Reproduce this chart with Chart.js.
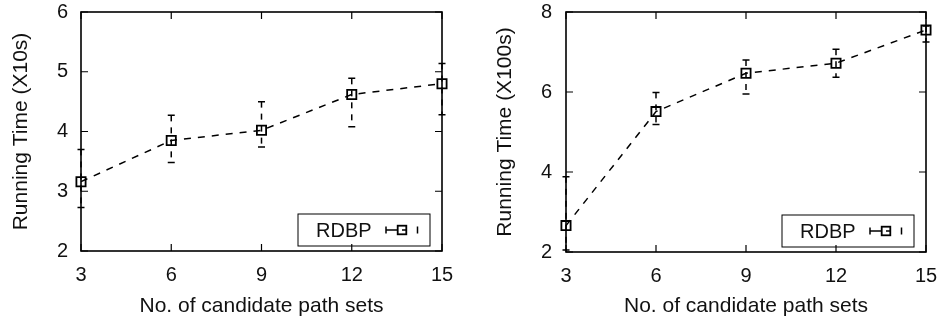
<!DOCTYPE html>
<html lang="en">
<head>
  <meta charset="UTF-8">
  <title>Running Time vs. Candidate Path Sets</title>
  <script src="https://cdn.jsdelivr.net/npm/chart.js"></script>
  <style>
    body { margin: 0; background: #fff; }
    .wrap { position: relative; width: 943px; height: 322px; }
    #leftChart { position: absolute; left: 0; top: 0; }
    #rightChart { position: absolute; left: 471px; top: 0; }
  </style>
</head>
<body>
<div class="wrap">
  <canvas id="leftChart" width="471" height="322"></canvas>
  <canvas id="rightChart" width="472" height="322"></canvas>
</div>

<script>
  // values
  const pathSets = [3, 6, 9, 12, 15];

  const leftMean = [3.16, 3.85, 4.02, 4.62, 4.80];
  const leftLow  = [2.73, 3.48, 3.74, 4.08, 4.28];
  const leftHigh = [3.70, 4.27, 4.50, 4.89, 5.14];

  const rightMean = [2.66, 5.51, 6.47, 6.72, 7.55];
  const rightLow  = [2.05, 5.19, 5.95, 6.37, 7.25];
  const rightHigh = [3.88, 5.99, 6.80, 7.07, 7.65];

  const leftYTicks = [2, 3, 4, 5, 6];
  const rightYTicks = [2, 4, 6, 8];
  const seriesName = "RDBP";

  const FONT = "'Liberation Sans', Arial, Helvetica, sans-serif";

  // box round the plot with inward ticks on all four sides
  const frameTicks = {
    id: 'frameTicks',
    beforeDatasetsDraw(chart) {
      const { ctx, chartArea: a, scales: { x, y } } = chart;
      ctx.save();
      ctx.strokeStyle = '#000';
      ctx.lineWidth = 1.6;
      ctx.strokeRect(a.left, a.top, a.right - a.left, a.bottom - a.top);
      ctx.lineWidth = 1.2;
      ctx.beginPath();
      x.ticks.forEach(t => {
        const px = x.getPixelForValue(t.value);
        ctx.moveTo(px, a.bottom); ctx.lineTo(px, a.bottom - 7);
        ctx.moveTo(px, a.top); ctx.lineTo(px, a.top + 7);
      });
      y.ticks.forEach(t => {
        const py = y.getPixelForValue(t.value);
        ctx.moveTo(a.left, py); ctx.lineTo(a.left + 7, py);
        ctx.moveTo(a.right, py); ctx.lineTo(a.right - 7, py);
      });
      ctx.stroke();
      ctx.restore();
    }
  };

  // dashed vertical error bars with solid caps
  const errorBars = {
    id: 'errorBars',
    beforeDatasetsDraw(chart) {
      const { ctx, scales: { x, y } } = chart;
      const ds = chart.data.datasets[0];
      ctx.save();
      ctx.strokeStyle = '#000';
      ctx.lineWidth = 1.5;
      ds.data.forEach((p, i) => {
        const px = x.getPixelForValue(p.x);
        const top = y.getPixelForValue(ds.errHigh[i]);
        const bot = y.getPixelForValue(ds.errLow[i]);
        ctx.setLineDash([6, 6]);
        ctx.beginPath();
        ctx.moveTo(px, top); ctx.lineTo(px, bot);
        ctx.stroke();
        ctx.setLineDash([]);
        ctx.beginPath();
        ctx.moveTo(px - 3.5, top); ctx.lineTo(px + 3.5, top);
        ctx.moveTo(px - 3.5, bot); ctx.lineTo(px + 3.5, bot);
        ctx.stroke();
      });
      ctx.restore();
    }
  };

  // gnuplot style key in the lower right corner
  const boxLegend = {
    id: 'boxLegend',
    afterDraw(chart) {
      const { ctx, chartArea: a } = chart;
      const right = a.right - 12, bottom = a.bottom - 5;
      const w = 132, h = 32;
      const left = right - w, top = bottom - h;
      const cy = top + h / 2;
      ctx.save();
      ctx.strokeStyle = '#000';
      ctx.lineWidth = 1;
      ctx.strokeRect(left, top, w, h);
      ctx.fillStyle = '#111';
      ctx.font = '20px ' + FONT;
      ctx.textBaseline = 'middle';
      ctx.fillText(chart.data.datasets[0].label, left + 18, cy + 1);
      const sx0 = right - 44, sx1 = right - 12.5, sc = right - 28;
      ctx.lineWidth = 1.5;
      ctx.beginPath();
      ctx.moveTo(sx0, cy - 3.5); ctx.lineTo(sx0, cy + 3.5);
      ctx.moveTo(sx0, cy); ctx.lineTo(sc - 4.5, cy);
      ctx.moveTo(sx1, cy - 3.5); ctx.lineTo(sx1, cy + 3.5);
      ctx.moveTo(sc, cy); ctx.lineTo(sc + 4.5, cy);
      ctx.stroke();
      ctx.lineWidth = 1.8;
      ctx.strokeRect(sc - 4.3, cy - 4.3, 8.6, 8.6);
      ctx.restore();
    }
  };

  function makeChart(id, mean, low, high, yTicks, yTitle, opts) {
    return new Chart(document.getElementById(id), {
      type: 'line',
      data: {
        datasets: [{
          label: seriesName,
          data: pathSets.map((v, i) => ({ x: v, y: mean[i] })),
          errLow: low,
          errHigh: high,
          borderColor: '#000',
          borderWidth: 1.5,
          borderDash: [7, 7],
          pointStyle: 'rect',
          pointRadius: 6.5,
          pointBorderWidth: 1.8,
          pointBackgroundColor: 'rgba(0,0,0,0)',
          pointBorderColor: '#000',
          tension: 0,
          clip: false
        }]
      },
      options: {
        responsive: false,
        animation: false,
        layout: { padding: { left: 0, top: 12, right: opts.padRight, bottom: 0 } },
        plugins: { legend: { display: false }, tooltip: { enabled: false } },
        scales: {
          x: {
            type: 'linear',
            min: 3, max: 15,
            afterBuildTicks: s => { s.ticks = pathSets.map(v => ({ value: v })); },
            afterFit: s => { s.height = opts.xHeight; s.paddingLeft = 0; s.paddingRight = 0; },
            grid: { display: false, drawTicks: false },
            border: { display: false },
            ticks: { padding: 12, color: '#111', font: { family: FONT, size: 20 } },
            title: {
              display: true,
              text: 'No. of candidate path sets',
              color: '#111',
              font: { family: FONT, size: 21 },
              padding: { top: 0, bottom: 3 }
            }
          },
          y: {
            min: yTicks[0], max: yTicks[yTicks.length - 1],
            afterBuildTicks: s => { s.ticks = yTicks.map(v => ({ value: v })); },
            afterFit: s => { s.width = opts.yWidth; s.paddingTop = 0; s.paddingBottom = 0; },
            grid: { display: false, drawTicks: false },
            border: { display: false },
            ticks: { padding: opts.yTickPad, color: '#111', font: { family: FONT, size: 20 } },
            title: {
              display: true,
              text: yTitle,
              color: '#111',
              font: { family: FONT, size: 21 },
              padding: { top: opts.yTitlePad, bottom: 0 }
            }
          }
        }
      },
      plugins: [frameTicks, errorBars, boxLegend]
    });
  }

  makeChart('leftChart', leftMean, leftLow, leftHigh, leftYTicks, 'Running Time (X10s)',
    { padRight: 29, xHeight: 71, yWidth: 81, yTickPad: 13, yTitlePad: 9 });
  makeChart('rightChart', rightMean, rightLow, rightHigh, rightYTicks, 'Running Time (X100s)',
    { padRight: 17, xHeight: 70, yWidth: 95, yTickPad: 14, yTitlePad: 22 });
</script>
</body>
</html>
